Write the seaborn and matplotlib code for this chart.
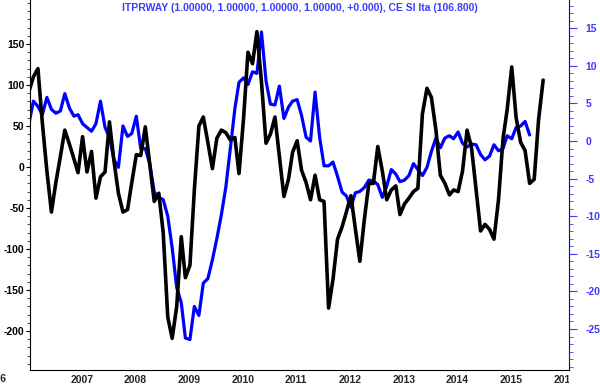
import pandas as pd
import numpy as np
import seaborn as sns
from matplotlib import pyplot as plt
from matplotlib.ticker import MultipleLocator, FixedLocator
from matplotlib.transforms import Bbox, blended_transform_factory
import matplotlib.dates as mdates

# CE SI Ita (left axis), monthly from Apr 2006
cesi = [92, 110, 120, 54, -5, -55, -19, 13, 45, 28,
        10, -7, 37, -6, 19, -38, -12, -6, 55, 7,
        -32, -55, -52, -19, 15, 14, 49, 4, -42, -32,
        -80, -183, -209, -170, -85, -135, -120, -28, 50, 61,
        30, -2, 35, 45, 42, 33, 36, -8, 59, 140,
        126, 165, 104, 29, 40, 61, 13, -36, -15, 18,
        32, -4, -19, -40, -10, -40, -42, -172, -137, -88,
        -73, -55, -35, -75, -115, -65, -20, -20, 25, -5,
        -40, -28, -23, -58, -45, -38, -30, -26, 65, 96,
        85, 45, -10, -20, -34, -28, -30, -5, 45, 24,
        -27, -78, -70, -76, -88, -40, 35, 70, 122, 60,
        30, 20, -20, -15, 58, 106]

# ITPRWAY (right axis), monthly from Apr 2006
itprway = [2.3, 5.3, 4.6, 3.5, 5.8, 4.2, 3.7, 4.0, 6.3, 4.4,
           3.3, 3.5, 2.3, 1.8, 1.3, 2.3, 5.3, 1.8, 0.5, -2.5,
           -3.5, 2.0, 0.6, 1.0, 3.3, -1.0, -1.0, -3.0, -6.8, -7.5,
           -7.8, -10.0, -14.2, -19.5, -21.5, -26.2, -26.4, -22.0, -23.2, -18.9,
           -18.3, -15.8, -13.0, -9.8, -6.2, -1.0, 4.3, 7.8, 8.4, 7.5,
           9.2, 9.0, 14.5, 8.0, 4.9, 4.8, 7.3, 3.0, 4.5, 5.3,
           5.5, 3.4, 0.5, 0.0, 6.5, 0.5, -3.3, -3.3, -2.8, -4.7,
           -6.8, -7.3, -8.8, -6.9, -6.7, -6.2, -5.2, -5.3, -5.8, -7.5,
           -6.0, -3.8, -4.4, -5.4, -5.2, -4.6, -3.0, -3.8, -4.6, -3.5,
           -1.4, 0.4, -0.9, 0.4, 0.7, 0.3, 1.2, -0.3, -0.8, -0.4,
           -0.5, -1.8, -2.5, -2.0, -0.5, -1.3, -1.0, 0.7, 0.3, 1.8,
           2.0, 2.6, 0.8]

years = list(range(2007, 2017))
left_ticks = [-200, -150, -100, -50, 0, 50, 100, 150]
right_ticks = [-25, -20, -15, -10, -5, 0, 5, 10, 15]
title = "ITPRWAY (1.00000, 1.00000, 1.00000, 1.00000, +0.000), CE SI Ita (106.800)"

df_cesi = pd.DataFrame({"date": pd.date_range("2006-04-01", periods=len(cesi), freq="MS"),
                        "value": cesi})
df_ip = pd.DataFrame({"date": pd.date_range("2006-04-01", periods=len(itprway), freq="MS"),
                      "value": itprway})

sns.set_style("white")
plt.rcParams["font.family"] = ["Liberation Sans", "DejaVu Sans"]
plt.rcParams["axes.unicode_minus"] = False

BLUE = "#0000ff"
LBLUE = "#3c3cff"
fs = 7.5

fig = plt.figure(figsize=(6, 3.85), dpi=100)
ax = fig.add_axes([30 / 600, 15 / 385, 539 / 600, 370 / 385])
ax2 = ax.twinx()

sns.lineplot(data=df_ip, x="date", y="value", ax=ax2, color=BLUE, linewidth=2.3)
sns.lineplot(data=df_cesi, x="date", y="value", ax=ax, color="black", linewidth=2.6)
ax.set_zorder(ax2.get_zorder() + 1)
ax.patch.set_visible(False)

ax.set_xlim(pd.Timestamp("2006-04-08"), pd.Timestamp("2016-04-25"))
ax.set_ylim(-247.6, 203.7)
ax2.set_ylim(-30.45, 18.75)

ax.set_xlabel("")
ax.set_ylabel("")
ax2.set_ylabel("")

# left axis
ax.yaxis.set_major_locator(FixedLocator(left_ticks))
ax.yaxis.set_minor_locator(MultipleLocator(10))
ax.tick_params(axis="y", which="major", direction="out", length=3, width=0.8, pad=1,
               labelsize=fs, colors="black")
ax.tick_params(axis="y", which="minor", direction="out", length=2, width=0.6)
for lab in ax.get_yticklabels():
    lab.set_fontweight("bold")

# right axis
ax2.yaxis.set_major_locator(FixedLocator(right_ticks))
ax2.yaxis.set_minor_locator(MultipleLocator(1))
ax2.tick_params(axis="y", which="major", direction="out", length=6, width=0.8, pad=6,
                labelsize=fs, colors=LBLUE)
ax2.tick_params(axis="y", which="minor", direction="out", length=3, width=0.6, colors=LBLUE)
for lab in ax2.get_yticklabels():
    lab.set_fontweight("bold")

# x axis: yearly major ticks, monthly minor ticks, labels right of the tick
ax.xaxis.set_major_locator(mdates.YearLocator())
ax.xaxis.set_minor_locator(mdates.MonthLocator())
ax.tick_params(axis="x", which="major", direction="out", length=11, width=0.9, labelbottom=False)
ax.tick_params(axis="x", which="minor", direction="out", length=3, width=0.6)

trans = blended_transform_factory(ax.transData, ax.transAxes)
clip = Bbox([[0, 0], [569, 385]])
for yr in years:
    t = ax.text(mdates.date2num(pd.Timestamp(f"{yr}-01-08")), -5 / 370, str(yr),
                transform=trans, ha="left", va="top", fontsize=fs, fontweight="bold")
    t.set_clip_box(clip)
    t.set_clip_on(True)
fig.text(7 / 600, 1 - 379 / 385, "2006", ha="right", va="center", fontsize=fs, fontweight="bold")

for a in (ax, ax2):
    a.spines["top"].set_visible(False)
ax.spines["left"].set_color("black")
ax.spines["bottom"].set_color("black")
ax2.spines["right"].set_color(LBLUE)
ax2.spines["left"].set_visible(False)
ax2.spines["bottom"].set_visible(False)
ax2.grid(False)
ax.grid(False)

fig.text(0.5, 1 - 8 / 385, title, ha="center", va="center", color=LBLUE,
         fontsize=fs, fontweight="bold")

fig.savefig("out.png", dpi=100)
